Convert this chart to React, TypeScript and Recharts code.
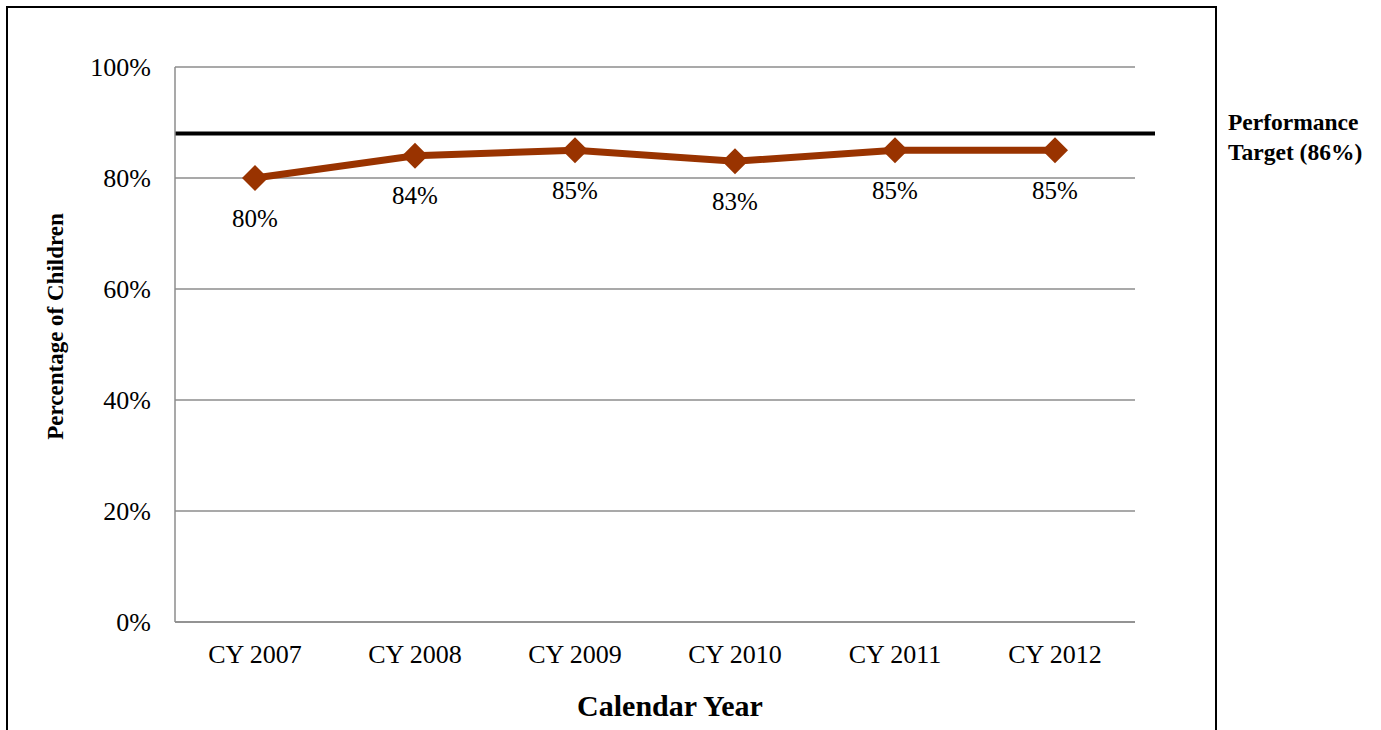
import React from "react";
import {
  LineChart,
  Line,
  XAxis,
  YAxis,
  CartesianGrid,
  ReferenceLine,
  LabelList,
  Label,
} from "recharts";

const categories = ["CY 2007", "CY 2008", "CY 2009", "CY 2010", "CY 2011", "CY 2012"];
const percentages = [80, 84, 85, 83, 85, 85];
const yTicks = [0, 20, 40, 60, 80, 100];
const targetValue = 88;
const targetLabel = ["Performance", "Target (86%)"];

const data = categories.map((c, i) => ({ year: c, value: percentages[i] }));

const FONT = "'Liberation Serif', 'Times New Roman', serif";
const LINE_COLOR = "#993300";
const GRID_COLOR = "#8c8c8c";

const Diamond = (props: any) => {
  const { cx, cy } = props;
  if (cx == null || cy == null) return null;
  const r = 13;
  return (
    <polygon
      points={`${cx},${cy - r} ${cx + r},${cy} ${cx},${cy + r} ${cx - r},${cy}`}
      fill={LINE_COLOR}
      stroke="none"
    />
  );
};

const TargetShape = (props: any) => {
  const { x1, y1, x2, y2 } = props;
  return <line x1={x1} y1={y1} x2={x2 + 20} y2={y2} stroke="#000" strokeWidth={4} />;
};

const TargetLabel = (props: any) => {
  const vb = props.viewBox || {};
  const x = vb.x + vb.width + 93;
  const y = vb.y;
  return (
    <text x={x} y={y} fontFamily={FONT} fontWeight="bold" fontSize={23.5} fill="#000">
      <tspan x={x} y={y - 4}>{targetLabel[0]}</tspan>
      <tspan x={x} y={y + 26}>{targetLabel[1]}</tspan>
    </text>
  );
};

const ValueLabel = (props: any) => {
  const { x, y, value } = props;
  return (
    <text
      x={x}
      y={y + 40}
      textAnchor="middle"
      dominantBaseline="central"
      fontFamily={FONT}
      fontSize={25}
      fill="#000"
    >
      {value}%
    </text>
  );
};

const YTitle = (props: any) => {
  const vb = props.viewBox || {};
  const cx = vb.x + 55;
  const cy = vb.y + vb.height / 2 - 18;
  return (
    <text
      x={cx}
      y={cy}
      transform={`rotate(-90, ${cx}, ${cy})`}
      textAnchor="middle"
      dominantBaseline="central"
      fontFamily={FONT}
      fontWeight="bold"
      fontSize={23}
      fill="#000"
    >
      Percentage of Children
    </text>
  );
};

const XTitle = (props: any) => {
  const vb = props.viewBox || {};
  const cx = vb.x + vb.width / 2 + 15;
  const cy = vb.y + 83;
  return (
    <text
      x={cx}
      y={cy}
      textAnchor="middle"
      dominantBaseline="central"
      fontFamily={FONT}
      fontWeight="bold"
      fontSize={30}
      fill="#000"
    >
      Calendar Year
    </text>
  );
};

export default function App() {
  return (
    <div style={{ position: "absolute", left: 0, top: 0, width: 1381, height: 730, background: "#fff", overflow: "hidden" }}>
      <div
        style={{
          position: "absolute",
          left: 6,
          top: 6,
          width: 1207,
          height: 740,
          borderLeft: "2px solid #000",
          borderTop: "2px solid #000",
          borderRight: "2px solid #000",
        }}
      />
      <div style={{ position: "absolute", left: 0, top: 0 }}>
        <LineChart
          width={1381}
          height={730}
          data={data}
          margin={{ top: 67, right: 246, bottom: 78, left: 0 }}
        >
          <CartesianGrid vertical={false} stroke={GRID_COLOR} strokeWidth={1.5} />
          <XAxis
            dataKey="year"
            scale="band"
            height={30}
            axisLine={{ stroke: GRID_COLOR, strokeWidth: 1.5 }}
            tickLine={false}
            tickMargin={17}
            tick={{ fontFamily: FONT, fontSize: 26, fill: "#000" }}
            interval={0}
          >
            <Label content={<XTitle />} />
          </XAxis>
          <YAxis
            width={175}
            domain={[0, 100]}
            ticks={yTicks}
            tickFormatter={(v: number) => `${v}%`}
            axisLine={{ stroke: GRID_COLOR, strokeWidth: 1.5 }}
            tickLine={false}
            tickMargin={18}
            tick={{ fontFamily: FONT, fontSize: 26, fill: "#000" }}
          >
            <Label content={<YTitle />} />
          </YAxis>
          <ReferenceLine y={targetValue} shape={<TargetShape />} label={<TargetLabel />} />
          <Line
            type="linear"
            dataKey="value"
            stroke={LINE_COLOR}
            strokeWidth={7}
            dot={<Diamond />}
            activeDot={false}
            isAnimationActive={false}
          >
            <LabelList dataKey="value" content={<ValueLabel />} />
          </Line>
        </LineChart>
      </div>
    </div>
  );
}
